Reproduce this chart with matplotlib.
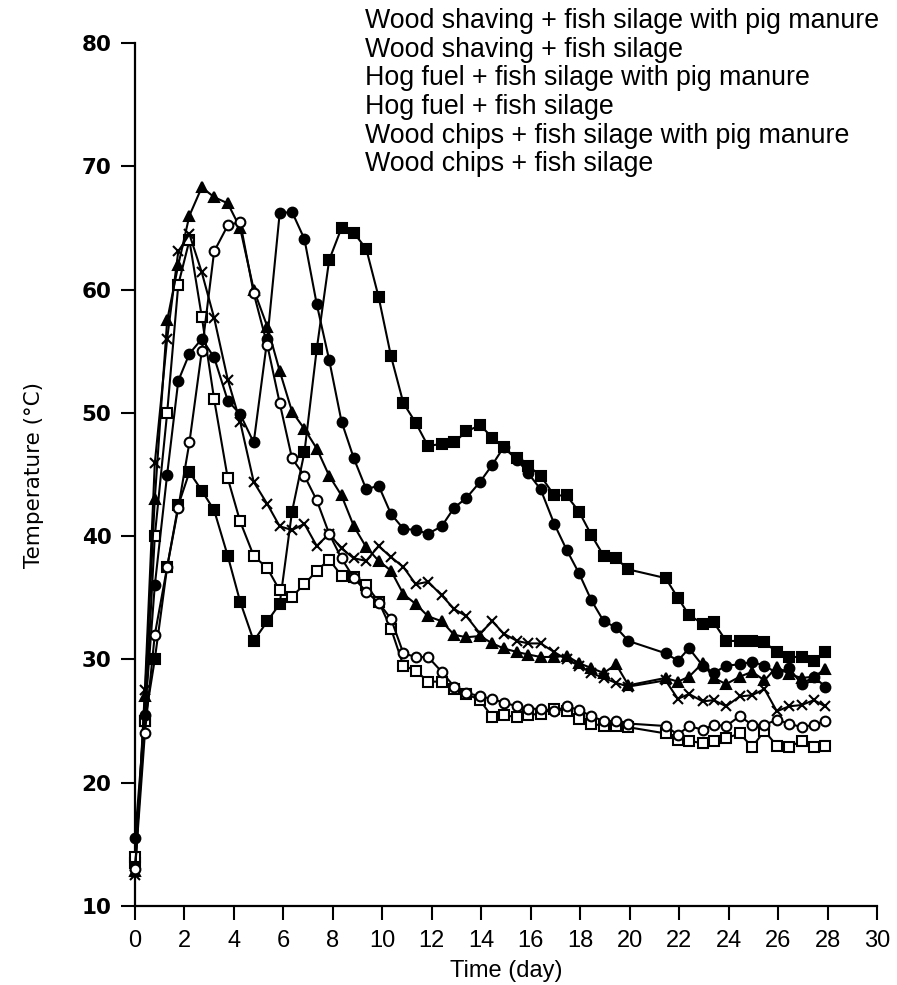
import matplotlib
matplotlib.use("Agg")
import matplotlib.pyplot as plt

# sampling times (day), shared by all six piles
days = [0, 0.4, 0.8, 1.3, 1.75, 2.2, 2.7, 3.2, 3.75, 4.25, 4.8, 5.35, 5.85, 6.35,
        6.85, 7.35, 7.85, 8.35, 8.85, 9.35, 9.85, 10.35, 10.85, 11.35, 11.85,
        12.4, 12.9, 13.4, 13.95, 14.45, 14.9, 15.45, 15.9, 16.4, 16.95, 17.45,
        17.95, 18.45, 18.95, 19.45, 19.95, 21.45, 21.95, 22.4, 22.95, 23.4,
        23.9, 24.45, 24.95, 25.45, 25.95, 26.45, 26.95, 27.45, 27.9]

# temperatures (deg C)
ws_pm = [13.5, 25, 30, 37.5, 42.5, 45.2, 43.7, 42.1, 38.4, 34.7, 31.5, 33.1, 34.5, 42,
         46.8, 55.2, 62.4, 65, 64.6, 63.3, 59.4, 54.6, 50.8, 49.2, 47.3, 47.5, 47.6,
         48.5, 49, 48, 47.2, 46.3, 45.7, 44.9, 43.3, 43.3, 42, 40.1, 38.4, 38.2, 37.3,
         36.6, 35, 33.6, 32.9, 33, 31.5, 31.5, 31.5, 31.4, 30.6, 30.2, 30.2, 29.9, 30.6]
ws = [14, 25, 40, 50, 60.4, 64, 57.8, 51.1, 44.7, 41.2, 38.4, 37.4, 35.6, 35.1,
      36.1, 37.2, 38.1, 36.8, 36.7, 36.0, 34.7, 32.5, 29.5, 29.1, 28.2, 28.2, 27.6,
      27.2, 26.7, 25.3, 25.5, 25.3, 25.5, 25.6, 26.0, 25.8, 25.2, 24.8, 24.6, 24.6,
      24.5, 24.0, 23.5, 23.4, 23.2, 23.4, 23.6, 24.0, 22.9, 24.2, 23.0, 22.9, 23.4,
      22.9, 23.0]
hf_pm = [12.8, 27, 43, 57.5, 62, 66, 68.3, 67.5, 67, 65, 60, 57, 53.4, 50.1, 48.7,
         47.1, 44.9, 43.3, 40.8, 39.1, 38.0, 37.2, 35.3, 34.5, 33.5, 33.1, 32.0, 31.8,
         31.9, 31.3, 30.9, 30.6, 30.4, 30.2, 30.2, 30.3, 29.7, 29.3, 28.9, 29.6, 27.9,
         28.5, 28.2, 28.6, 29.7, 28.5, 28.0, 28.6, 29.0, 28.3, 29.4, 28.8, 28.5, 28.6,
         29.2]
hf = [12.5, 27.5, 45.9, 56, 63.1, 64.5, 61.4, 57.7, 52.7, 49.3, 44.4, 42.6, 40.8,
      40.5, 41, 39.2, 40.2, 39, 38.2, 38, 39.2, 38.3, 37.5, 36.1, 36.3, 35.2, 34.1,
      33.5, 32.1, 33.1, 32.1, 31.5, 31.3, 31.3, 30.6, 30.0, 29.5, 28.9, 28.5, 28.1,
      27.8, 28.3, 26.8, 27.2, 26.6, 26.7, 26.2, 27.0, 27.1, 27.6, 25.8, 26.2, 26.3,
      26.7, 26.2]
wc_pm = [15.5, 25.5, 36, 45, 52.6, 54.8, 56, 54.5, 51, 49.9, 47.6, 56, 66.2, 66.3,
         64.1, 58.8, 54.3, 49.3, 46.3, 43.8, 44.1, 41.8, 40.6, 40.5, 40.2, 40.8, 42.3,
         43.1, 44.4, 45.8, 47.2, 46.2, 45.1, 43.8, 41, 38.9, 37, 34.8, 33.1, 32.6, 31.5,
         30.5, 29.9, 30.9, 29.5, 28.9, 29.5, 29.6, 29.8, 29.5, 28.9, 29.3, 28.0, 28.6,
         27.8]
wc = [13, 24, 32, 37.5, 42.3, 47.6, 55, 63.1, 65.2, 65.5, 59.7, 55.5, 50.8, 46.3,
      44.9, 42.9, 40.2, 38.2, 36.6, 35.5, 34.6, 33.3, 30.5, 30.2, 30.2, 29.0, 27.8,
      27.3, 27.0, 26.8, 26.5, 26.2, 26.0, 26.0, 25.8, 26.2, 25.9, 25.4, 25.0, 25.0,
      24.8, 24.6, 23.9, 24.6, 24.3, 24.7, 24.6, 25.4, 24.7, 24.7, 25.1, 24.8, 24.5,
      24.7, 25.0]

labels = ["Wood shaving + fish silage with pig manure",
          "Wood shaving + fish silage",
          "Hog fuel + fish silage with pig manure",
          "Hog fuel + fish silage",
          "Wood chips + fish silage with pig manure",
          "Wood chips + fish silage"]

series = [ws_pm, ws, hf_pm, hf, wc_pm, wc]
# marker, face colour
styles = [("s", "black"), ("s", "white"), ("^", "black"),
          ("x", "black"), ("o", "black"), ("o", "white")]

fig = plt.figure(figsize=(8.97, 9.85), dpi=100)
ax = fig.add_axes([0.1505, 0.0802, 0.8272, 0.8761])

for temps, lab, (mk, fc) in zip(series, labels, styles):
    ax.plot(days, temps, color="black", lw=1.5, marker=mk, ms=7,
            mfc=fc, mec="black", mew=1.5, label=lab, clip_on=False, zorder=3)

ax.set_xlim(0, 30)
ax.set_ylim(10, 80)
ax.set_xticks(range(0, 31, 2))
ax.set_yticks(range(10, 81, 10))

for side in ("top", "right"):
    ax.spines[side].set_visible(False)
for side in ("left", "bottom"):
    ax.spines[side].set_linewidth(1.6)

ax.tick_params(axis="both", direction="out", length=10, width=1.5)
ax.tick_params(axis="y", pad=7)
ax.tick_params(axis="x", pad=7)
for t in ax.get_yticklabels():
    t.set_fontfamily("DejaVu Sans")
    t.set_fontweight("bold")
    t.set_fontsize(15.5)
for t in ax.get_xticklabels():
    t.set_fontfamily("Liberation Sans")
    t.set_fontsize(17)

ax.set_xlabel("Time (day)", fontsize=17, family="Liberation Sans", labelpad=6)
ax.set_ylabel("Temperature (°C)", fontsize=15.5, family="DejaVu Sans", labelpad=27)

# series names listed in the upper right, text only
leg = ax.legend(loc="upper left", bbox_to_anchor=(365 / 897, 1 - 8 / 985),
                bbox_transform=fig.transFigure, frameon=False,
                handlelength=0, handletextpad=0, borderpad=0, borderaxespad=0,
                labelspacing=0.1, prop={"family": "Liberation Sans", "size": 19.3})
for h in leg.legend_handles:
    h.set_visible(False)

fig.savefig("out.png", dpi=100, facecolor="white")
